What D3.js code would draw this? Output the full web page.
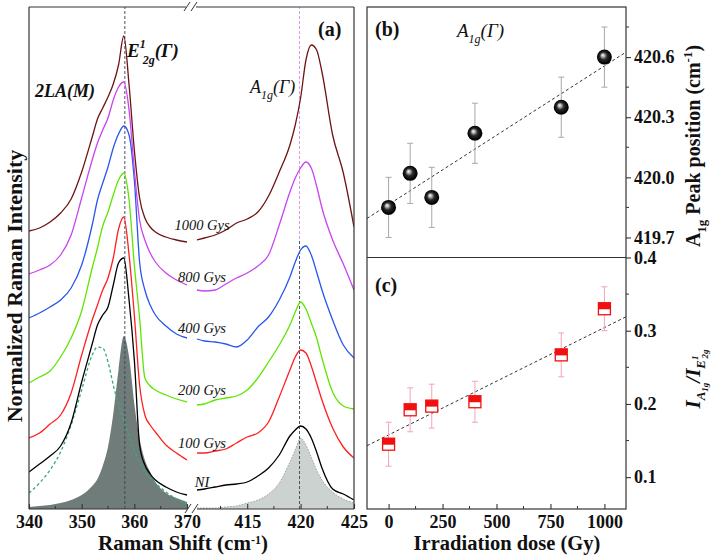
<!DOCTYPE html>
<html><head><meta charset="utf-8">
<script src="https://cdn.jsdelivr.net/npm/d3@7"></script>
<style>
body{margin:0;background:#fff}
svg{display:block}
text{font-family:"Liberation Serif","Times New Roman",serif;fill:#111}
</style>
</head><body>
<svg id="chart" width="716" height="555"></svg>
<script>
// ---------------- DATA ----------------
const shiftLeft  = [340,342,344,346,348,350,352,353,354,355,356,357,358,359,360,361,362,363,364,366,368,370];
const shiftRight = [410.3,411,412,413,414,415,416,417,418,419,419.5,420,420.5,421,421.5,422,423,424,425];

const specNames = ["NI","100 Gys","200 Gys","400 Gys","800 Gys","1000 Gys"];
const specNI_L   = [0.37,0.45,0.53,0.63,0.86,1.27,1.65,1.84,1.94,2.02,2.24,2.46,2.51,2.09,1.49,0.64,0.44,0.35,0.29,0.22,0.17,0.14];
const specNI_R   = [0.19,0.20,0.22,0.24,0.25,0.27,0.33,0.41,0.54,0.73,0.79,0.83,0.80,0.71,0.57,0.41,0.20,0.15,0.09];
const spec100_L  = [0.71,0.76,0.85,0.94,1.16,1.54,1.89,2.04,2.19,2.31,2.51,2.80,2.92,2.54,1.94,1.24,0.94,0.84,0.77,0.64,0.56,0.49];
const spec100_R  = [0.56,0.56,0.58,0.60,0.66,0.72,0.76,0.87,1.12,1.39,1.52,1.59,1.56,1.43,1.26,1.09,0.81,0.62,0.51];
const spec200_L  = [1.26,1.32,1.38,1.52,1.71,1.98,2.41,2.61,2.83,2.97,3.14,3.29,3.36,3.09,2.44,1.91,1.31,1.23,1.19,1.14,1.10,1.07];
const spec200_R  = [1.04,1.05,1.09,1.11,1.13,1.19,1.31,1.47,1.64,1.84,1.97,2.07,2.00,1.86,1.71,1.51,1.17,1.03,1.00];
const spec400_L  = [1.91,1.96,2.02,2.09,2.21,2.44,2.84,3.09,3.26,3.42,3.61,3.75,3.83,3.74,3.29,2.47,2.19,2.04,1.94,1.83,1.75,1.71];
const spec400_R  = [1.70,1.68,1.67,1.65,1.62,1.69,1.82,1.92,2.09,2.32,2.47,2.59,2.63,2.54,2.37,2.19,1.89,1.64,1.51];
const spec800_L  = [2.35,2.39,2.44,2.54,2.74,3.11,3.49,3.66,3.79,3.91,4.09,4.22,4.27,3.99,3.39,2.89,2.69,2.56,2.47,2.36,2.29,2.24];
const spec800_R  = [2.19,2.18,2.19,2.25,2.31,2.36,2.43,2.54,2.84,3.17,3.31,3.41,3.47,3.41,3.23,3.01,2.69,2.45,2.19];
const spec1000_L = [2.78,2.81,2.87,2.96,3.10,3.37,3.72,3.90,4.01,4.12,4.25,4.44,4.73,4.24,3.59,3.11,2.91,2.82,2.77,2.72,2.69,2.67];
const spec1000_R = [2.69,2.71,2.74,2.79,2.86,2.90,2.97,3.13,3.37,3.64,3.84,4.11,4.49,4.64,4.59,4.37,3.74,3.36,2.82];
const fitE2g_L   = [0.02,0.03,0.04,0.06,0.09,0.14,0.23,0.30,0.43,0.62,0.95,1.39,1.73,1.52,1.05,0.70,0.49,0.37,0.27,0.16,0.11,0.07];
const fit2LA_L   = [0.16,0.26,0.39,0.57,0.84,1.19,1.54,1.62,1.61,1.47,1.24,1.04,0.89,0.72,0.58,0.47,0.37,0.31,0.26,0.17,0.10,0.05];
const fitA1g_R   = [0.01,0.01,0.01,0.02,0.03,0.06,0.09,0.15,0.26,0.47,0.59,0.71,0.64,0.52,0.39,0.29,0.17,0.10,0.06];
const refShifts  = [358.2, 419.9];

const doses      = [0,100,200,400,800,1000];
const peakPos    = [419.85,420.02,419.90,420.22,420.35,420.60];
const peakErr    = [0.15,0.15,0.15,0.15,0.15,0.15];
const ratioVals  = [0.145,0.192,0.197,0.203,0.267,0.330];
const ratioErr   = [0.030,0.030,0.030,0.028,0.030,0.030];
const fitPeakEnds  = [[-100,419.795],[1100,420.625]];
const fitRatioEnds = [[-100,0.143],[1100,0.319]];

const ticksLeft   = [340,350,360,370];
const ticksRight  = [415,420,425];
const minorLeft   = [345,355,365];
const minorRight  = [412.5,417.5,422.5];
const ticksDose   = [0,250,500,750,1000];
const minorDose   = [125,375,625,875];
const ticksPeak   = [419.7,420.0,420.3,420.6];
const minorPeak   = [419.85,420.15,420.45,420.75];
const ticksRatio  = [0.1,0.2,0.3,0.4];
const minorRatio  = [0.15,0.25,0.35];

// ---------------- LAYOUT ----------------
const svg = d3.select("#chart");
const colors = ["#000000","#ff1f1f","#5ee600","#2856ee","#c844f0","#6e1414"];
const specL = [specNI_L,spec100_L,spec200_L,spec400_L,spec800_L,spec1000_L];
const specR = [specNI_R,spec100_R,spec200_R,spec400_R,spec800_R,spec1000_R];

const xL = d3.scaleLinear().domain([340,370]).range([29,187]);
const xR = d3.scaleLinear().domain([410.3,425]).range([197,354]);
const yA = d3.scaleLinear().domain([0,5.02]).range([509,7]);

const xD = d3.scaleLinear().domain([-100,1100]).range([367,626]);
const yB = d3.scaleLinear().domain([419.6,420.85]).range([257.5,7]);
const yC = d3.scaleLinear().domain([0.0565,0.4]).range([509,257.5]);

// defs
const defs = svg.append("defs");
const rg = defs.append("radialGradient").attr("id","ball").attr("cx","50%").attr("cy","50%").attr("r","55%").attr("fx","38%").attr("fy","36%");
rg.append("stop").attr("offset","0%").attr("stop-color","#ffffff");
rg.append("stop").attr("offset","18%").attr("stop-color","#b8b8b8");
rg.append("stop").attr("offset","45%").attr("stop-color","#2a2a2a");
rg.append("stop").attr("offset","85%").attr("stop-color","#000000");
rg.append("stop").attr("offset","100%").attr("stop-color","#3a3a3a");
defs.append("clipPath").attr("id","clipA").append("rect").attr("x",29).attr("y",7).attr("width",325).attr("height",502);

// ---------- Panel (a) ----------
const gA = svg.append("g").attr("clip-path","url(#clipA)");
const areaL = d3.area().x((d,i)=>xL(shiftLeft[i])).y0(yA(0)).y1(d=>yA(d)).curve(d3.curveMonotoneX);
const areaR = d3.area().x((d,i)=>xR(shiftRight[i])).y0(yA(0)).y1(d=>yA(d)).curve(d3.curveMonotoneX);
const lineL = d3.line().x((d,i)=>xL(shiftLeft[i])).y(d=>yA(d)).curve(d3.curveMonotoneX);
const lineR = d3.line().x((d,i)=>xR(shiftRight[i])).y(d=>yA(d)).curve(d3.curveMonotoneX);

gA.append("path").attr("d",areaL(fitE2g_L)).attr("fill","#6f7c7a");
gA.append("path").attr("d",areaR(fitA1g_R)).attr("fill","#cbd2d0");
gA.append("path").attr("d",lineR(fitA1g_R)).attr("fill","none").attr("stroke","#9aa3a1").attr("stroke-width",1).attr("stroke-dasharray","1.5,1.5");
gA.append("path").attr("d",lineL(fit2LA_L)).attr("fill","none").attr("stroke","#3aaa78").attr("stroke-width",1.3).attr("stroke-dasharray","3,2.5");

// reference dashed lines
gA.append("line").attr("x1",xL(refShifts[0])).attr("x2",xL(refShifts[0])).attr("y1",yA(0)).attr("y2",yA(5.02))
  .attr("stroke","#3a3f55").attr("stroke-width",0.9).attr("stroke-dasharray","3,2");
gA.append("line").attr("x1",xR(refShifts[1])).attr("x2",xR(refShifts[1])).attr("y1",yA(0)).attr("y2",yA(2.7))
  .attr("stroke","#3a3f55").attr("stroke-width",0.9).attr("stroke-dasharray","3,2");
gA.append("line").attr("x1",xR(refShifts[1])).attr("x2",xR(refShifts[1])).attr("y1",yA(2.7)).attr("y2",yA(5.02))
  .attr("stroke","#d58ae6").attr("stroke-width",0.9).attr("stroke-dasharray","3,2");

specL.forEach((s,k)=>{
  gA.append("path").attr("d",lineL(s)).attr("fill","none").attr("stroke",colors[k]).attr("stroke-width",1.3);
  gA.append("path").attr("d",lineR(specR[k])).attr("fill","none").attr("stroke",colors[k]).attr("stroke-width",1.3);
});

// curve labels
const labelLevels = [0.22,0.61,1.14,1.76,2.27,2.79];
specNames.forEach((n,k)=>{
  svg.append("text").attr("x",202).attr("y",yA(labelLevels[k])).attr("text-anchor","middle")
    .attr("font-size",14.5).attr("font-style","italic").text(n);
});

// frame (a)
const fr = svg.append("g").attr("stroke","#333").attr("stroke-width",1.2).attr("fill","none");
fr.append("line").attr("x1",29).attr("x2",29).attr("y1",7).attr("y2",509);
fr.append("line").attr("x1",354).attr("x2",354).attr("y1",7).attr("y2",509);
fr.append("line").attr("x1",29).attr("x2",187).attr("y1",509).attr("y2",509);
fr.append("line").attr("x1",197).attr("x2",354).attr("y1",509).attr("y2",509);
fr.append("line").attr("x1",29).attr("x2",186).attr("y1",7).attr("y2",7);
fr.append("line").attr("x1",196).attr("x2",354).attr("y1",7).attr("y2",7);
[[185,513,191,504],[192,513,198,504],[184,11,190,2],[191,11,197,2]].forEach(b=>{
  fr.append("line").attr("x1",b[0]).attr("y1",b[1]).attr("x2",b[2]).attr("y2",b[3]).attr("stroke-width",1);
});

function styleAxis(g){
  g.select(".domain").remove();
  g.selectAll(".tick line").attr("stroke","#333").attr("stroke-width",1.1);
  g.selectAll(".tick text").attr("font-size",18).attr("font-weight","bold").attr("fill","#111")
    .attr("font-family","'Liberation Serif','Times New Roman',serif");
}
const axL = svg.append("g").attr("transform","translate(0,509)")
  .call(d3.axisBottom(xL).tickValues(ticksLeft).tickSizeInner(-5).tickSizeOuter(0).tickPadding(6).tickFormat(d3.format("d")));
styleAxis(axL);
const axR = svg.append("g").attr("transform","translate(0,509)")
  .call(d3.axisBottom(xR).tickValues(ticksRight).tickSizeInner(-5).tickSizeOuter(0).tickPadding(6).tickFormat(d3.format("d")));
styleAxis(axR);
minorLeft.forEach(v=>svg.append("line").attr("x1",xL(v)).attr("x2",xL(v)).attr("y1",509).attr("y2",506).attr("stroke","#333"));
minorRight.forEach(v=>svg.append("line").attr("x1",xR(v)).attr("x2",xR(v)).attr("y1",509).attr("y2",506).attr("stroke","#333"));

// panel (a) text
svg.append("text").attr("x",183).attr("y",550).attr("text-anchor","middle").attr("font-size",21).attr("font-weight","bold")
  .call(t=>{t.append("tspan").text("Raman Shift (cm");t.append("tspan").attr("font-size",12).attr("dy",-6.5).text("-1");t.append("tspan").attr("dy",6.5).text(")");});
svg.append("text").attr("transform","translate(22,286) rotate(-90)").attr("text-anchor","middle").attr("font-size",22).attr("font-weight","bold")
  .text("Normalized Raman Intensity");
svg.append("text").attr("x",35).attr("y",97).attr("font-size",18).attr("font-weight","bold").attr("font-style","italic").text("2LA(M)");
svg.append("text").attr("x",127).attr("y",57).attr("font-size",19).attr("font-weight","bold").attr("font-style","italic")
  .call(t=>{t.append("tspan").text("E");t.append("tspan").attr("font-size",12).attr("dy",-9).text("1");
    t.append("tspan").attr("font-size",12).attr("dx",-3).attr("dy",16).text("2g");t.append("tspan").attr("dy",-7).text("(Γ)");});
svg.append("text").attr("x",250).attr("y",93).attr("font-size",18).attr("font-style","italic")
  .call(t=>{t.append("tspan").text("A");t.append("tspan").attr("font-size",12).attr("dy",6).text("1g");t.append("tspan").attr("dy",-6).text("(Γ)");});
svg.append("text").attr("x",318).attr("y",36).attr("font-size",20).attr("font-weight","bold").text("(a)");

// ---------- Panel (b) ----------
const gB = svg.append("g");
gB.append("line").attr("x1",xD(fitPeakEnds[0][0])).attr("y1",yB(fitPeakEnds[0][1])).attr("x2",xD(fitPeakEnds[1][0])).attr("y2",yB(fitPeakEnds[1][1]))
  .attr("stroke","#333").attr("stroke-width",1).attr("stroke-dasharray","3,2.5");
doses.forEach((d,i)=>{
  const x=xD(d), y0=yB(peakPos[i]-peakErr[i]), y1=yB(peakPos[i]+peakErr[i]);
  gB.append("line").attr("x1",x).attr("x2",x).attr("y1",y0).attr("y2",y1).attr("stroke","#a8a8a8").attr("stroke-width",1);
  [y0,y1].forEach(yy=>gB.append("line").attr("x1",x-3).attr("x2",x+3).attr("y1",yy).attr("y2",yy).attr("stroke","#a8a8a8"));
});
doses.forEach((d,i)=>{
  gB.append("circle").attr("cx",xD(d)).attr("cy",yB(peakPos[i])).attr("r",7.5).attr("fill","url(#ball)");
});

// ---------- Panel (c) ----------
const gC = svg.append("g");
gC.append("line").attr("x1",xD(fitRatioEnds[0][0])).attr("y1",yC(fitRatioEnds[0][1])).attr("x2",xD(fitRatioEnds[1][0])).attr("y2",yC(fitRatioEnds[1][1]))
  .attr("stroke","#333").attr("stroke-width",1).attr("stroke-dasharray","3,2.5");
doses.forEach((d,i)=>{
  const x=xD(d), y0=yC(ratioVals[i]-ratioErr[i]), y1=yC(ratioVals[i]+ratioErr[i]);
  gC.append("line").attr("x1",x).attr("x2",x).attr("y1",y0).attr("y2",y1).attr("stroke","#f4a3b3").attr("stroke-width",1);
  [y0,y1].forEach(yy=>gC.append("line").attr("x1",x-3).attr("x2",x+3).attr("y1",yy).attr("y2",yy).attr("stroke","#f4a3b3"));
});
doses.forEach((d,i)=>{
  const x=xD(d), y=yC(ratioVals[i]);
  gC.append("rect").attr("x",x-6).attr("y",y-6).attr("width",12).attr("height",12).attr("fill","#fff").attr("stroke","#f01010").attr("stroke-width",1.3);
  gC.append("rect").attr("x",x-6).attr("y",y-6).attr("width",12).attr("height",6.5).attr("fill","#f01010");
});

// frame (b)/(c)
const fr2 = svg.append("g").attr("stroke","#333").attr("stroke-width",1.2).attr("fill","none");
fr2.append("rect").attr("x",367).attr("y",7).attr("width",259).attr("height",502);
fr2.append("line").attr("x1",367).attr("x2",626).attr("y1",257.5).attr("y2",257.5);

const axD = svg.append("g").attr("transform","translate(0,509)")
  .call(d3.axisBottom(xD).tickValues(ticksDose).tickSizeInner(-5).tickSizeOuter(0).tickPadding(6).tickFormat(d3.format("d")));
styleAxis(axD);
minorDose.forEach(v=>svg.append("line").attr("x1",xD(v)).attr("x2",xD(v)).attr("y1",509).attr("y2",506).attr("stroke","#333"));

const axB = svg.append("g").attr("transform","translate(626,0)")
  .call(d3.axisRight(yB).tickValues(ticksPeak).tickSizeInner(5).tickSizeOuter(0).tickPadding(3).tickFormat(d3.format(".1f")));
styleAxis(axB);
minorPeak.forEach(v=>svg.append("line").attr("x1",626).attr("x2",629).attr("y1",yB(v)).attr("y2",yB(v)).attr("stroke","#333"));
const axC = svg.append("g").attr("transform","translate(626,0)")
  .call(d3.axisRight(yC).tickValues(ticksRatio).tickSizeInner(5).tickSizeOuter(0).tickPadding(3).tickFormat(d3.format(".1f")));
styleAxis(axC);
minorRatio.forEach(v=>svg.append("line").attr("x1",626).attr("x2",629).attr("y1",yC(v)).attr("y2",yC(v)).attr("stroke","#333"));

// texts b/c
svg.append("text").attr("x",375).attr("y",36).attr("font-size",20).attr("font-weight","bold").text("(b)");
svg.append("text").attr("x",375).attr("y",292).attr("font-size",20).attr("font-weight","bold").text("(c)");
svg.append("text").attr("x",457).attr("y",37).attr("font-size",19).attr("font-style","italic")
  .call(t=>{t.append("tspan").text("A");t.append("tspan").attr("font-size",12).attr("dy",6).text("1g");t.append("tspan").attr("dy",-6).text("(Γ)");});
svg.append("text").attr("x",507).attr("y",550).attr("text-anchor","middle").attr("font-size",20.5).attr("font-weight","bold").text("Irradiation dose (Gy)");
svg.append("text").attr("transform","translate(700,146) rotate(-90)").attr("text-anchor","middle").attr("font-size",20).attr("font-weight","bold")
  .call(t=>{t.append("tspan").text("A");t.append("tspan").attr("font-size",13).attr("dy",6).text("1g");
    t.append("tspan").attr("dy",-6).text(" Peak position (cm");t.append("tspan").attr("font-size",13).attr("dy",-8).text("-1");t.append("tspan").attr("dy",8).text(")");});
svg.append("text").attr("transform","translate(700,379) rotate(-90)").attr("text-anchor","middle").attr("font-size",21).attr("font-weight","bold").attr("font-style","italic")
  .call(t=>{t.append("tspan").text("I");t.append("tspan").attr("font-size",13).attr("dy",5).text("A");
    t.append("tspan").attr("font-size",9).attr("dy",3).text("1g");
    t.append("tspan").attr("dy",-8).text("/I");t.append("tspan").attr("font-size",13).attr("dy",5).text("E");
    t.append("tspan").attr("font-size",9).attr("dy",-7).text("1");
    t.append("tspan").attr("font-size",9).attr("dx",-3).attr("dy",10).text("2g");});
</script>
</body></html>
